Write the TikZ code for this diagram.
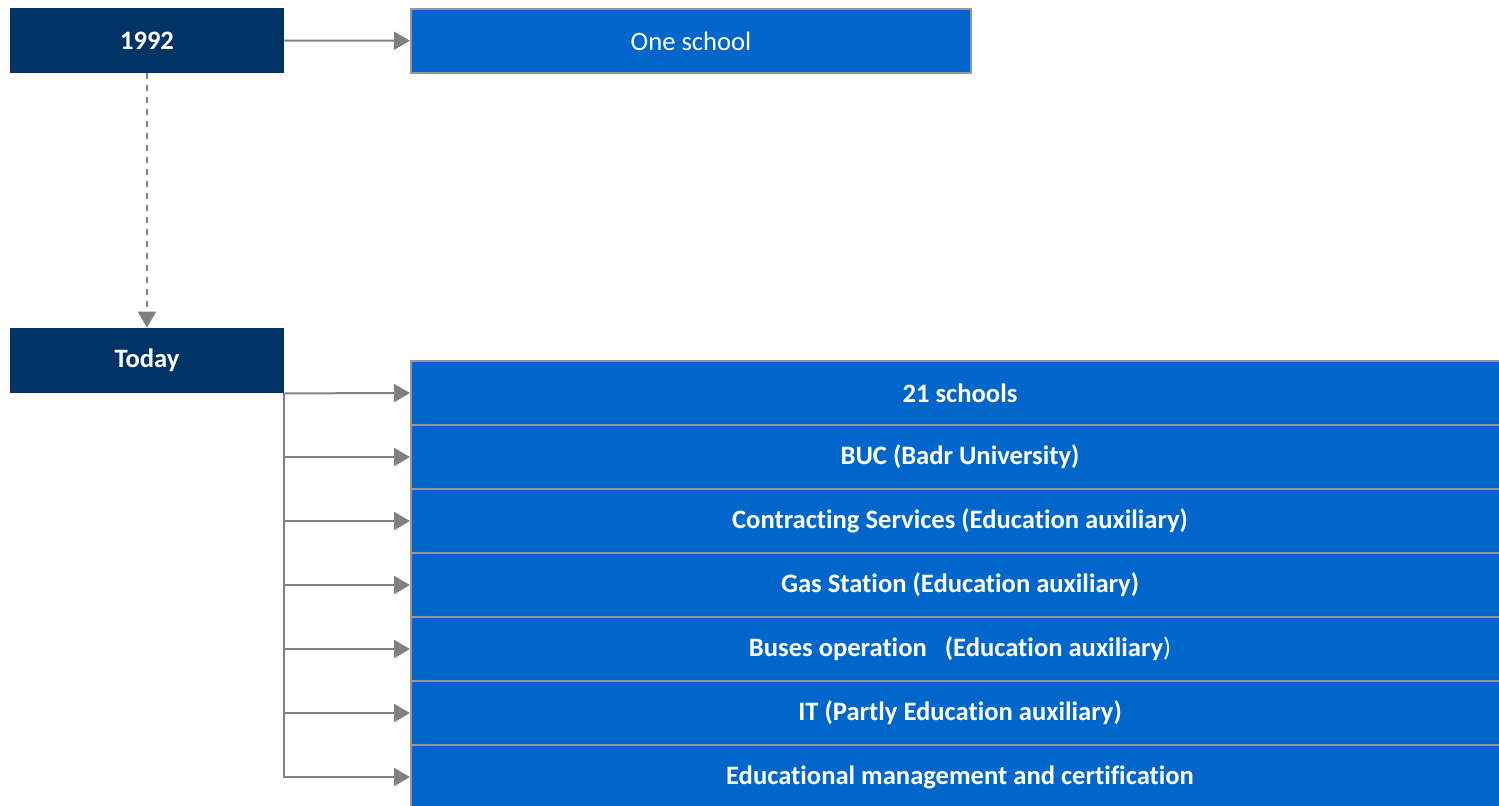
\documentclass[tikz,border=0pt]{standalone}
\usepackage{fontspec}
\setmainfont{Carlito}[Ligatures=NoCommon]
\usetikzlibrary{arrows.meta, positioning}
\definecolor{navy}{RGB}{0,51,102}
\definecolor{boxblue}{RGB}{0,102,204}
\definecolor{edgegray}{RGB}{150,150,150}
\definecolor{arrowgray}{RGB}{128,128,128}

\begin{document}
\begin{tikzpicture}[x=0.5pt,y=-0.5pt,
    every node/.style={text=white, inner sep=0pt, font=\fontsize{13.3}{16}\selectfont},
    year/.style={fill=navy, minimum width=137pt, minimum height=32.5pt,
        font=\fontsize{13.3}{16}\selectfont\bfseries},
    unit/.style={fill=boxblue, draw=edgegray, line width=1pt,
        minimum width=549pt, minimum height=32pt,
        font=\fontsize{13.3}{16}\selectfont\bfseries},
    link/.style={draw=arrowgray, line width=1pt,
        -{Triangle[length=8pt,width=9pt]}}
    ]
    \useasboundingbox (0,0) rectangle (1499,805);
    \clip (0,0) rectangle (1499,805);

    % years
    \node[year] (then) at (147,40.5) {1992};
    \node[year] (today) at (147,360.5) {Today};

    % 1992
    \node[unit, minimum width=280pt, font=\fontsize{13.3}{16}\selectfont] (one) at (691,41) {One school};

    % today
    \foreach \i/\txt in {1/21 schools,
        2/BUC (Badr University),
        3/Contracting Services (Education auxiliary),
        4/Gas Station (Education auxiliary),
        5/{Buses operation\ \ \ (Education auxiliary{\mdseries)}},
        6/IT (Partly Education auxiliary),
        7/Educational management and certification}
        \node[unit] (r\i) at (960,{393+64*(\i-1)}) {\txt};

    \draw[link] (then) -- (one);
    \draw[link, dash pattern=on 3pt off 3pt] (then) -- (today);
    \draw[link] (today.south east) -- (r1.west);
    \foreach \i in {2,...,7}
        \draw[link] (today.south east) |- (r\i.west);

\end{tikzpicture}
\end{document}
